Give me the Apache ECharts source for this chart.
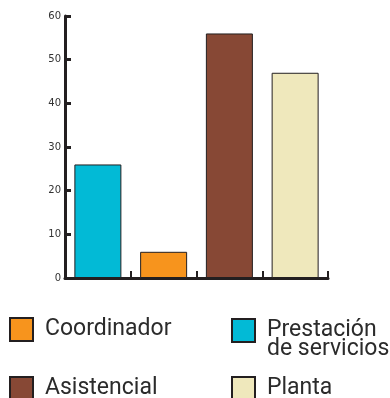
<!DOCTYPE html>
<html><head><meta charset="utf-8">
<script src="https://cdn.jsdelivr.net/npm/echarts@6/dist/echarts.min.js"></script>
<style>html,body{margin:0;padding:0;background:#fff}#c{width:390px;height:398px}</style>
</head><body><div id="c"></div>
<script>
const categories = ['Prestación de servicios', 'Coordinador', 'Asistencial', 'Planta'];
const values = [26, 6, 56, 47];
const yTicks = [0, 10, 20, 30, 40, 50, 60];
// leading blank line keeps the first line aligned with the legend square
const legendLabels = {'Prestación de servicios': ' \nPrestación\nde servicios'};

const colors = ['#02BAD6', '#F7941D', '#874835', '#EFE8BC'];
const dark = '#231f20';

const series = categories.map((name, i) => ({
  name: name,
  type: 'bar',
  stack: 'all',
  barWidth: 47,
  data: categories.map((c, j) => j === i ? values[i] : '-'),
  itemStyle: {color: colors[i], borderColor: dark, borderWidth: 1},
  emphasis: {disabled: true}
}));

const legendPos = {
  'Coordinador': {left: 9, top: 317},
  'Prestación de servicios': {left: 231, top: 317},
  'Asistencial': {left: 9, top: 376},
  'Planta': {left: 231, top: 376}
};

const legends = categories.map(name => {
  const multi = !!legendLabels[name];
  return {
    data: [name],
    left: legendPos[name].left,
    top: multi ? legendPos[name].top - 17 : legendPos[name].top,
    padding: 0,
    icon: 'rect',
    itemWidth: 23,
    itemHeight: 23,
    selectedMode: false,
    itemStyle: {borderColor: dark, borderWidth: 2},
    formatter: n => legendLabels[n] || n,
    textStyle: {
      fontFamily: 'Roboto', fontSize: 23, color: '#2b2b2b', lineHeight: 19,
      padding: [0, 0, 0, 7]
    }
  };
});

const chart = echarts.init(document.getElementById('c'));
chart.setOption({
  animation: false,
  grid: {left: 65, right: 62, top: 16, bottom: 120},
  legend: legends,
  xAxis: {
    type: 'category',
    data: categories,
    boundaryGap: true,
    axisLine: {lineStyle: {color: dark, width: 3}},
    axisTick: {show: true, inside: true, interval: 0, length: 7, lineStyle: {color: dark, width: 2}},
    axisLabel: {show: false, interval: 0},
    splitLine: {show: false}
  },
  yAxis: {
    type: 'value',
    min: yTicks[0], max: yTicks[yTicks.length - 1], interval: 10,
    axisLine: {show: true, lineStyle: {color: dark, width: 3}},
    axisTick: {show: true, inside: true, length: 6, lineStyle: {color: dark, width: 3}},
    axisLabel: {fontFamily: 'DejaVu Sans', fontSize: 10, color: '#333', margin: 4},
    splitLine: {show: false}
  },
  series: series
});
</script></body></html>
